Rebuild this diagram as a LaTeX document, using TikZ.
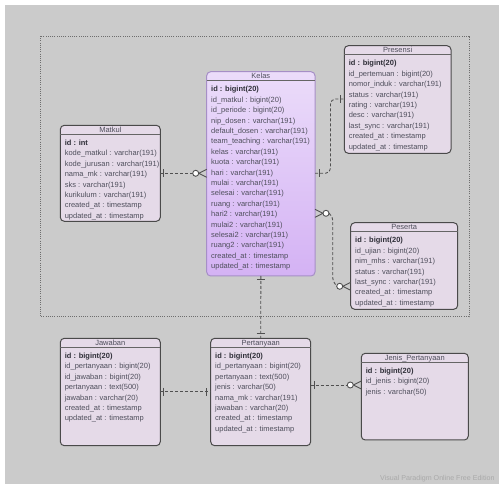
\documentclass[tikz,border=0pt]{standalone}
\usepackage{fontspec}
\setmainfont{Liberation Sans}
\usetikzlibrary{calc}

\definecolor{canvasbg}{HTML}{CBCBCB}
\definecolor{boxfill}{HTML}{E5DAE8}
\definecolor{boxedge}{HTML}{4A4A4A}
\definecolor{kelastop}{HTML}{EBDCFA}
\definecolor{kelasbot}{HTML}{D4B2F4}
\definecolor{kelasedge}{HTML}{A68FC6}
\definecolor{rowink}{HTML}{4F4F5C}
\definecolor{boldink}{HTML}{2F2F38}
\definecolor{linkink}{HTML}{505050}
\definecolor{frameink}{HTML}{6E6E6E}
\definecolor{wmink}{HTML}{A9A9A9}

\tikzset{
  erbox/.style={draw=boxedge, fill=boxfill, rounded corners=4pt, line width=1pt,
    anchor=north west, inner sep=0pt, outer sep=0pt},
  kelasbox/.style={erbox, draw=kelasedge, top color=kelastop, bottom color=kelasbot},
  ertitle/.style={anchor=base, inner sep=0pt, font=\fontsize{7.5}{9}\selectfont, text=rowink},
  errow/.style={anchor=base west, inner sep=0pt, font=\fontsize{7.5}{9}\selectfont, text=rowink},
  erline/.style={draw=linkink, line width=0.9pt},
  erdash/.style={erline, dash pattern=on 3pt off 2pt},
  groupframe/.style={draw=frameink, line width=0.6pt, dash pattern=on 1pt off 1.2pt},
}

% entity box: [style] name, x, y, width, height, title, rows
\newcommand\erentity[8][erbox]{%
  \node[#1, minimum width=#5pt, minimum height=#6pt] (#2) at (#3,#4) {};
  \draw[line width=0.8pt, draw=boxedge!85] ($(#2.north west)+(0,9)$) -- ($(#2.north east)+(0,9)$);
  \node[ertitle] (#2-t) at ($(#2.north)+(0,7.2)$) {#7};
  \foreach \r [count=\i] in {#8}
    \node[errow] (#2-r\i) at ($(#2.north west)+(4.3,{20.2+(\i-1)*10.4})$) {\r};
}
\newcommand\idrow[1]{\textcolor{boldink}{\textbf{#1}}}

% "one" bar, placed just off an entity edge
\newcommand\erone[3][4]{%
  \begin{scope}[shift={(#2)}, rotate=#3]
    \draw[erline] (#1,-4) -- (#1,4);
  \end{scope}}
% "zero or many": crow's foot with open circle
\newcommand\ermany[2]{%
  \begin{scope}[shift={(#1)}, rotate=#2]
    \draw[erline] (0,4) -- (8,0) -- (0,-4);
    \draw[erline, fill=white] (11,0) circle (3pt);
  \end{scope}}

\begin{document}
\begin{tikzpicture}[x=1pt, y=-1pt]
  \clip (0,0) rectangle (499,484);
  \fill[white] (0,0) rectangle (499,484);
  \fill[canvasbg] (5,5) rectangle (499,484);

  % package frame
  \draw[groupframe] (40.3,36) rectangle (469,316.7);

  % entities
  \erentity[kelasbox]{kelas}{206.7}{71.7}{108.3}{204.3}{Kelas}{\idrow{id : bigint(20)},
    id\_matkul : bigint(20), id\_periode : bigint(20), nip\_dosen : varchar(191),
    default\_dosen : varchar(191), team\_teaching : varchar(191), kelas : varchar(191),
    kuota : varchar(191), hari : varchar(191), mulai : varchar(191), selesai : varchar(191),
    ruang : varchar(191), hari2 : varchar(191), mulai2 : varchar(191), selesai2 : varchar(191),
    ruang2 : varchar(191), created\_at : timestamp, updated\_at : timestamp}

  \erentity{matkul}{60.3}{125.3}{100}{96}{Matkul}{\idrow{id : int},
    kode\_matkul : varchar(191), kode\_jurusan : varchar(191), nama\_mk : varchar(191),
    sks : varchar(191), kurikulum : varchar(191), created\_at : timestamp, updated\_at : timestamp}

  \erentity{presensi}{344.3}{45.7}{106.7}{107.6}{Presensi}{\idrow{id : bigint(20)},
    id\_pertemuan : bigint(20), nomor\_induk : varchar(191), status : varchar(191),
    rating : varchar(191), desc : varchar(191), last\_sync : varchar(191),
    created\_at : timestamp, updated\_at : timestamp}

  \erentity{peserta}{350.7}{222.7}{107}{86.6}{Peserta}{\idrow{id : bigint(20)},
    id\_ujian : bigint(20), nim\_mhs : varchar(191), status : varchar(191),
    last\_sync : varchar(191), created\_at : timestamp, updated\_at : timestamp}

  \erentity{jawaban}{60.3}{338.3}{100}{107.4}{Jawaban}{\idrow{id : bigint(20)},
    id\_pertanyaan : bigint(20), id\_jawaban : bigint(20), pertanyaan : text(500),
    jawaban : varchar(20), created\_at : timestamp, updated\_at : timestamp}

  \erentity{pertanyaan}{210.7}{338.3}{100}{107.4}{Pertanyaan}{\idrow{id : bigint(20)},
    id\_pertanyaan : bigint(20), pertanyaan : text(500), jenis : varchar(50),
    nama\_mk : varchar(191), jawaban : varchar(20), created\_at : timestamp,
    updated\_at : timestamp}

  \erentity{jenis}{361.3}{353.3}{107}{86.7}{Jenis\_Pertanyaan}{\idrow{id : bigint(20)},
    id\_jenis : bigint(20), jenis : varchar(50)}

  % connector end points on entity edges
  \coordinate (mk-r)  at ($(matkul.north east)+(0,48)$);
  \coordinate (kl-l)  at ($(kelas.north west)+(0,101.6)$);
  \coordinate (kl-r1) at ($(kelas.north east)+(0,101.6)$);
  \coordinate (pr-l)  at ($(presensi.north west)+(0,53.3)$);
  \coordinate (kl-r2) at ($(kelas.north east)+(0,141.6)$);
  \coordinate (ps-l)  at ($(peserta.north west)+(0,63.6)$);
  \coordinate (jw-r)  at ($(jawaban.north east)+(0,53.4)$);
  \coordinate (pt-l)  at ($(pertanyaan.north west)+(0,53.4)$);
  \coordinate (pt-r)  at ($(pertanyaan.north east)+(0,46.7)$);
  \coordinate (jp-l)  at ($(jenis.north west)+(0,31.7)$);

  % Matkul -- Kelas
  \draw[erdash] (mk-r) -- ($(kl-l)+(-14,0)$);
  \erone[3]{mk-r}{0}
  \ermany{kl-l}{180}

  % Kelas -- Presensi
  \draw[erdash, rounded corners=5pt] (kl-r1) -- ++(15.5,0) |- (pr-l);
  \erone{kl-r1}{0}
  \erone[4.3]{pr-l}{180}

  % Kelas -- Peserta
  \draw[erdash, rounded corners=3pt] ($(kl-r2)+(14,0)$) -- ($(kl-r2)+(17.7,4)$)
    -- ($(ps-l)+(-18,-6)$) -- ($(ps-l)+(-14,0)$);
  \ermany{kl-r2}{0}
  \ermany{ps-l}{180}

  % Kelas -- Pertanyaan
  \draw[erdash] (kelas.south) -- (pertanyaan.north);
  \erone[3.3]{kelas.south}{-90}
  \erone[5]{pertanyaan.north}{90}

  % Jawaban -- Pertanyaan
  \draw[erdash] (jw-r) -- (pt-l);
  \erone[3]{jw-r}{0}
  \erone{pt-l}{180}

  % Pertanyaan -- Jenis_Pertanyaan
  \draw[erdash] (pt-r) -- ($(jp-l)+(-14,0)$);
  \erone[3.3]{pt-r}{0}
  \ermany{jp-l}{180}

  % editor watermark
  \node[anchor=base west, inner sep=0pt, text=wmink, font=\fontsize{7.1}{9}\selectfont]
    (watermark) at (380,480) {Visual Paradigm Online Free Edition};
\end{tikzpicture}
\end{document}
